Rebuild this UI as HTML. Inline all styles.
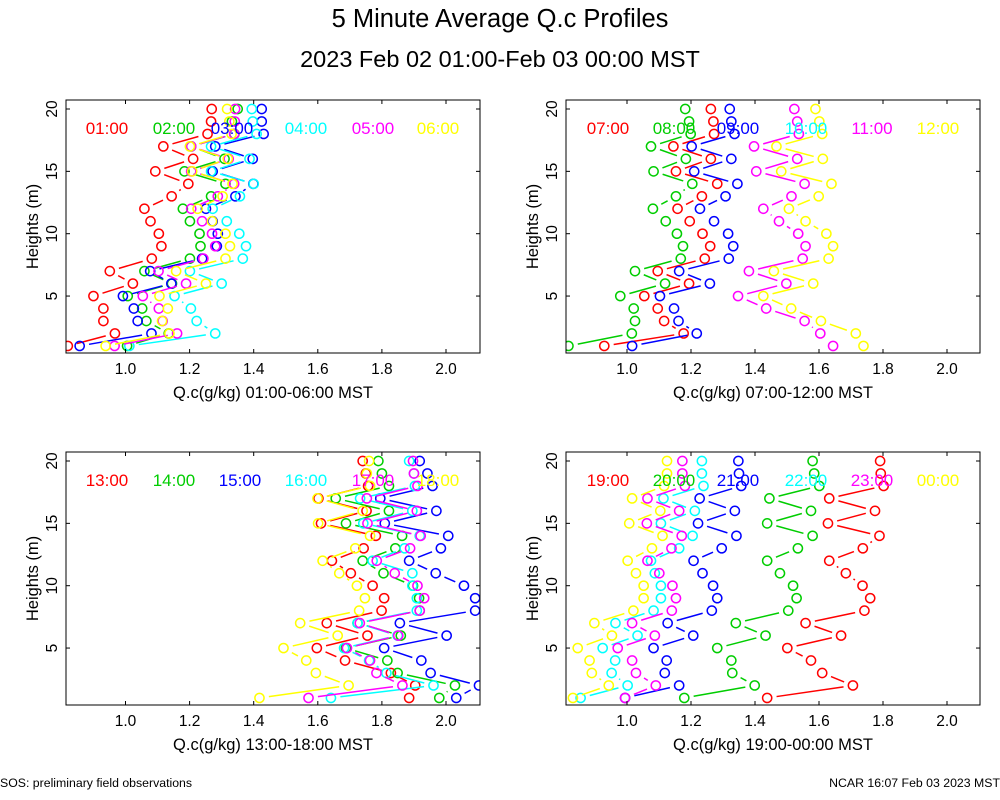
<!DOCTYPE html>
<html><head><meta charset="utf-8"><style>
body{margin:0;background:#fff;}
svg{display:block;font-family:"Liberation Sans",sans-serif;}
</style></head><body>
<svg id="chart" width="1000" height="800" viewBox="0 0 1000 800">
<text x="500" y="27" text-anchor="middle" font-size="25.5">5 Minute Average Q.c Profiles</text>
<text x="500" y="67" text-anchor="middle" font-size="23.5">2023 Feb 02 01:00-Feb 03 00:00 MST</text>
<text x="0" y="787" font-size="12.3">SOS: preliminary field observations</text>
<text x="1000" y="787" font-size="12.3" text-anchor="end">NCAR 16:07 Feb 03 2023 MST</text>
</svg>
<script>
const heights=[20,19,18,17,16,15,14,13,12,11,10,9,8,7,6,5,4,3,2,1];
const xTicks=[1.0,1.2,1.4,1.6,1.8,2.0];
const yTicks=[5,10,15,20];
const colors=["#ff0000","#00cd00","#0000ff","#00ffff","#ff00ff","#ffff00"];
const p1Labels=["01:00","02:00","03:00","04:00","05:00","06:00"];
const p2Labels=["07:00","08:00","09:00","10:00","11:00","12:00"];
const p3Labels=["13:00","14:00","15:00","16:00","17:00","18:00"];
const p4Labels=["19:00","20:00","21:00","22:00","23:00","00:00"];
const p1Red=[1.269,1.267,1.256,1.118,1.211,1.093,1.196,1.144,1.059,1.078,1.104,1.112,1.082,0.951,1.023,0.900,0.931,0.931,0.967,0.820];
const p1Green=[1.350,1.332,1.340,1.205,1.309,1.184,1.312,1.267,1.179,1.201,1.231,1.234,1.201,1.059,1.145,1.007,1.052,1.065,1.135,1.005];
const p1Blue=[1.425,1.425,1.431,1.280,1.397,1.272,1.399,1.343,1.251,1.272,1.288,1.285,1.239,1.077,1.143,0.992,1.026,1.038,1.081,0.857];
const p1Cyan=[1.394,1.397,1.409,1.267,1.387,1.267,1.400,1.357,1.272,1.316,1.355,1.376,1.366,1.201,1.300,1.153,1.204,1.222,1.280,1.012];
const p1Magenta=[1.342,1.341,1.339,1.205,1.322,1.205,1.339,1.288,1.205,1.239,1.270,1.280,1.243,1.103,1.189,1.054,1.104,1.116,1.161,0.966];
const p1Yellow=[1.317,1.324,1.331,1.201,1.319,1.208,1.334,1.303,1.225,1.270,1.312,1.326,1.312,1.158,1.251,1.106,1.132,1.114,1.137,0.938];
const p2Red=[1.262,1.270,1.272,1.145,1.262,1.153,1.282,1.234,1.158,1.196,1.236,1.260,1.243,1.096,1.194,1.054,1.096,1.116,1.177,0.929];
const p2Green=[1.182,1.194,1.199,1.075,1.184,1.083,1.204,1.153,1.081,1.121,1.156,1.175,1.168,1.025,1.119,0.979,1.021,1.025,1.015,0.817];
const p2Blue=[1.321,1.326,1.336,1.202,1.326,1.210,1.345,1.308,1.228,1.272,1.316,1.332,1.318,1.163,1.259,1.103,1.147,1.161,1.218,1.016];
const p2Cyan=[];
const p2Magenta=[1.523,1.532,1.537,1.397,1.532,1.404,1.555,1.514,1.426,1.475,1.535,1.558,1.549,1.381,1.498,1.347,1.435,1.555,1.604,1.644];
const p2Yellow=[1.589,1.601,1.610,1.467,1.612,1.482,1.639,1.599,1.506,1.558,1.623,1.644,1.630,1.459,1.582,1.426,1.513,1.606,1.715,1.739];
const p3Red=[1.740,1.750,1.757,1.602,1.752,1.610,1.781,1.743,1.644,1.703,1.771,1.807,1.799,1.628,1.755,1.597,1.685,1.828,1.904,1.885];
const p3Green=[1.789,1.800,1.822,1.656,1.822,1.688,1.863,1.842,1.740,1.805,1.897,1.916,1.918,1.724,1.859,1.688,1.817,1.849,2.028,1.979];
const p3Blue=[1.918,1.942,1.958,1.795,1.970,1.809,2.007,1.984,1.885,1.968,2.056,2.091,2.091,1.856,2.002,1.807,1.923,1.952,2.103,2.032];
const p3Cyan=[1.885,1.900,1.903,1.732,1.895,1.742,1.918,1.871,1.771,1.895,1.895,1.909,1.909,1.724,1.849,1.682,1.760,1.814,1.961,1.641];
const p3Magenta=[1.897,1.900,1.911,1.753,1.909,1.755,1.921,1.888,1.784,1.840,1.911,1.932,1.918,1.731,1.851,1.691,1.763,1.783,1.864,1.571];
const p3Yellow=[1.760,1.753,1.763,1.599,1.740,1.601,1.763,1.717,1.615,1.667,1.722,1.747,1.729,1.545,1.662,1.493,1.564,1.594,1.696,1.418];
const p4Red=[1.791,1.793,1.802,1.632,1.775,1.628,1.789,1.737,1.632,1.684,1.736,1.760,1.742,1.558,1.669,1.501,1.575,1.610,1.706,1.438];
const p4Green=[1.580,1.585,1.601,1.445,1.575,1.438,1.580,1.534,1.438,1.478,1.519,1.530,1.504,1.340,1.433,1.282,1.326,1.329,1.399,1.179];
const p4Blue=[1.348,1.350,1.357,1.227,1.337,1.222,1.342,1.296,1.208,1.236,1.269,1.282,1.265,1.127,1.207,1.083,1.124,1.118,1.163,0.994];
const p4Cyan=[1.234,1.234,1.239,1.114,1.212,1.106,1.205,1.163,1.075,1.087,1.106,1.106,1.083,0.964,1.033,0.924,0.963,0.952,1.002,0.855];
const p4Magenta=[1.173,1.173,1.181,1.064,1.163,1.062,1.171,1.139,1.064,1.101,1.142,1.153,1.140,1.016,1.087,0.971,1.016,1.028,1.090,0.994];
const p4Yellow=[1.125,1.125,1.116,1.016,1.104,1.007,1.111,1.078,1.002,1.028,1.052,1.052,1.020,0.898,0.953,0.846,0.883,0.890,0.943,0.831];

const NS="http://www.w3.org/2000/svg";
const svg=document.getElementById('chart');
function mk(tag,attrs,parent){const e=document.createElementNS(NS,tag);for(const k in attrs)e.setAttribute(k,attrs[k]);(parent||svg).appendChild(e);return e;}

const panels=[
 {id:"p1",x0:66,x1:480,y0:100,y1:353,one:125.5,unit:320.5,top:109,title:"Q.c(g/kg) 01:00-06:00 MST",labels:p1Labels,series:[p1Red,p1Green,p1Blue,p1Cyan,p1Magenta,p1Yellow],lx:[107,174,232,306,373,438]},
 {id:"p2",x0:566,x1:980,y0:100,y1:353,one:627,unit:320,top:109,title:"Q.c(g/kg) 07:00-12:00 MST",labels:p2Labels,series:[p2Red,p2Green,p2Blue,p2Cyan,p2Magenta,p2Yellow],lx:[608,674,738,806,872,938]},
 {id:"p3",x0:66,x1:480,y0:452,y1:705,one:125.5,unit:320.5,top:461,title:"Q.c(g/kg) 13:00-18:00 MST",labels:p3Labels,series:[p3Red,p3Green,p3Blue,p3Cyan,p3Magenta,p3Yellow],lx:[107,174,240,306,373,438]},
 {id:"p4",x0:566,x1:980,y0:452,y1:705,one:627,unit:320,top:461,title:"Q.c(g/kg) 19:00-00:00 MST",labels:p4Labels,series:[p4Red,p4Green,p4Blue,p4Cyan,p4Magenta,p4Yellow],lx:[608,674,738,806,872,938]}
];
const rowH=12.47;
panels.forEach((P,pi)=>{
  const g=mk('g',{});
  
  
  const xs=v=>P.one+(v-1)*P.unit;
  const ys=h=>P.top+(20-h)*rowH;
  const clip=mk('clipPath',{id:'clip'+P.id},g);
  mk('rect',{x:P.x0,y:P.y0,width:P.x1-P.x0,height:P.y1-P.y0},clip);
  P.series.forEach((arr,si)=>{
    const sg=mk('g',{'clip-path':'url(#clip'+P.id+')',stroke:colors[si],fill:'none','stroke-width':1.5},g);
    
    
    const pts=arr.map((v,i)=>[xs(v),ys(heights[i])]);
    const gap=9.5;
    for(let i=0;i<pts.length-1;i++){
      const [ax,ay]=pts[i],[bx,by]=pts[i+1];
      const dx=bx-ax,dy=by-ay,L=Math.hypot(dx,dy);
      if(L>2*gap+1){const ux=dx/L,uy=dy/L;
        const ln=mk('line',{x1:ax+ux*gap,y1:ay+uy*gap,x2:bx-ux*gap,y2:by-uy*gap},sg);
        
        }
    }
    pts.forEach(p=>{const c=mk('circle',{cx:p[0],cy:p[1],r:4.6},sg);
      
      });
  });
  const box=mk('rect',{x:P.x0,y:P.y0,width:P.x1-P.x0,height:P.y1-P.y0,fill:'none',stroke:'#000','stroke-width':1},g);
  
  
  xTicks.forEach(t=>{const x=xs(t);
    mk('line',{x1:x,y1:P.y1,x2:x,y2:P.y1-4,stroke:'#000'},g);
    mk('line',{x1:x,y1:P.y0,x2:x,y2:P.y0+4,stroke:'#000'},g);
    const tx=mk('text',{x:x,y:P.y1+21,'text-anchor':'middle','font-size':15.5},g);
    tx.textContent=t.toFixed(1);
    
    });
  yTicks.forEach(t=>{const y=ys(t);
    mk('line',{x1:P.x0,y1:y,x2:P.x0+4,y2:y,stroke:'#000'},g);
    mk('line',{x1:P.x1,y1:y,x2:P.x1-4,y2:y,stroke:'#000'},g);
    const tx=mk('text',{x:0,y:0,'text-anchor':'middle','font-size':15.5,transform:'translate('+(P.x0-9)+','+y+') rotate(-90)'},g);
    tx.textContent=t;
    
    });
  const xt=mk('text',{x:(P.x0+P.x1)/2,y:P.y1+45,'text-anchor':'middle','font-size':16.5},g);
  xt.textContent=P.title;
  
  
  const yt=mk('text',{x:0,y:0,'text-anchor':'middle','font-size':16.5,transform:'translate('+(P.x0-28)+','+((P.y0+P.y1)/2)+') rotate(-90)'},g);
  yt.textContent='Heights (m)';
  
  
  P.labels.forEach((l,i)=>{const t=mk('text',{x:P.lx[i],y:P.y0+34,'text-anchor':'middle','font-size':17,fill:colors[i]},g);
    t.textContent=l;
    
    });
});
</script>
</body></html>
